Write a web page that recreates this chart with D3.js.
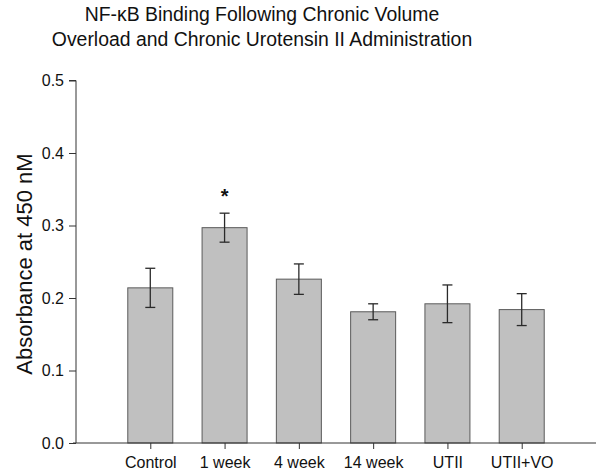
<!DOCTYPE html>
<html><head><meta charset="utf-8">
<script src="https://cdn.jsdelivr.net/npm/d3@7"></script>
<style>body{margin:0;background:#fff}svg{display:block}text{font-family:"Liberation Sans",Arial,sans-serif;fill:#111}</style>
</head><body>
<svg id="c" width="600" height="473"></svg>
<script>
const categories = ["Control","1 week","4 week","14 week","UTII","UTII+VO"];
const values = [0.214, 0.297, 0.226, 0.181, 0.192, 0.184];
const errors = [0.027, 0.020, 0.021, 0.011, 0.026, 0.022];
const significant = [false, true, false, false, false, false];
const yTicks = [0.0, 0.1, 0.2, 0.3, 0.4, 0.5];
const titleLines = ["NF-\u03BAB Binding Following Chronic Volume","Overload and Chronic Urotensin II Administration"];
const yLabel = "Absorbance at 450 nM";

(function(){
const svg = d3.select("#c");
const mL = 76, mR = 596, mT = 80.5, mB = 443;
const x = d3.scalePoint().domain(categories).range([mL, mR]).padding(1);
const y = d3.scaleLinear().domain([0, 0.5]).range([mB, mT]);
const bw = 45;

const tf = svg.append("g").attr("text-anchor","middle").style("font-size","19.4px");
titleLines.forEach((t,i)=>tf.append("text").attr("x",262).attr("y",21+i*25).text(t));

svg.append("text").attr("transform","translate(32,264) rotate(-90)").attr("text-anchor","middle")
  .style("font-size","22px").text(yLabel);

const data = categories.map((c,i)=>({c, v:values[i], e:errors[i], s:significant[i]}));

svg.selectAll("rect.bar").data(data).join("rect").attr("class","bar")
  .attr("x",d=>x(d.c)-bw/2).attr("width",bw)
  .attr("y",d=>y(d.v)).attr("height",d=>y(0)-y(d.v))
  .attr("fill","#c0c0c0").attr("stroke","#5a5a5a").attr("stroke-width",1);

const eg = svg.append("g").attr("stroke","#2a2a2a").attr("stroke-width",1.3);
data.forEach(d=>{
  const cx = x(d.c);
  eg.append("line").attr("x1",cx).attr("x2",cx).attr("y1",y(d.v+d.e)).attr("y2",y(d.v-d.e));
  eg.append("line").attr("x1",cx-5).attr("x2",cx+5).attr("y1",y(d.v+d.e)).attr("y2",y(d.v+d.e));
  eg.append("line").attr("x1",cx-5).attr("x2",cx+5).attr("y1",y(d.v-d.e)).attr("y2",y(d.v-d.e));
});

svg.selectAll("text.sig").data(data.filter(d=>d.s)).join("text").attr("class","sig")
  .attr("x",d=>x(d.c)).attr("y",d=>y(d.v+d.e)-10).attr("text-anchor","middle")
  .style("font-size","20px").style("font-weight","bold").text("*");

const ya = svg.append("g").attr("transform",`translate(${mL},0)`)
  .call(d3.axisLeft(y).tickValues(yTicks).tickFormat(d3.format(".1f")).tickSize(7).tickPadding(5));
ya.select(".domain").attr("stroke","#333").attr("d",`M-7,${mT}H0V${mB}`);
ya.selectAll(".tick line").attr("stroke","#333");
ya.selectAll("text").style("font-size","16px").attr("fill","#111");

const xa = svg.append("g").attr("transform",`translate(0,${mB})`)
  .call(d3.axisBottom(x).tickSize(6).tickPadding(8));
xa.select(".domain").attr("stroke","#333").attr("d",`M${mL-3},0H${mR}`);
xa.selectAll(".tick line").attr("stroke","#333");
xa.selectAll("text").style("font-size","16px").attr("fill","#111");
})();
</script>
</body></html>
